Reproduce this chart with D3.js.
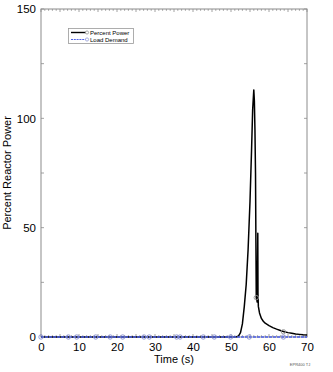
<!DOCTYPE html>
<html><head><meta charset="utf-8">
<script src="https://cdn.jsdelivr.net/npm/d3@7"></script>
<style>body{margin:0;background:#fff}svg{display:block}text{font-family:"Liberation Sans",Arial,sans-serif}</style>
</head><body>
<script>
const powerTime = [0,50,51,51.5,52,52.5,53,53.5,54,54.5,55,55.4,55.7,56.0,56.15,56.3,56.45,56.55,56.65,56.9,57.05,57.1,57.2,57.5,58,58.5,59,60,61,62,63,64,65,66,67,68,69,70];
const powerValue = [0,0,0,0.1,0.5,2,6,14,24,40,62,85,104,113,108,95,75,45,18,16,47.5,20,14,11,8.5,7.2,6.3,5.2,4.3,3.6,3,2.4,2,1.7,1.4,1.2,1,0.9];
const powerMarkerTime = [56.65,63.8];
const powerMarkerValue = [18,2.4];
const demandTime = [0,70];
const demandValue = [0,0];
const demandMarkerTime = [0,7.2,9.4,14.4,18.2,21.5,27.1,28.5,35.7,36.6,42.7,45.6,49.9,54.8,63.8];
const xTicks = [0,10,20,30,40,50,60,70];
const yTicks = [0,50,100,150];
const seriesNames = ["Percent Power","Load Demand"];

const W=333,H=372;
const m={l:41,r:26,t:9,b:35};
const svg=d3.select("body").append("svg").attr("width",W).attr("height",H);
const x=d3.scaleLinear().domain([0,70]).range([m.l,W-m.r]);
const y=d3.scaleLinear().domain([0,150]).range([H-m.b,m.t]);
const frameC="#8c8c8c";

const g=svg.append("g").attr("stroke",frameC).attr("stroke-width",0.8);
d3.range(0,151,25).forEach(v=>{
  const len=3;
  g.append("line").attr("x1",x(0)).attr("x2",x(0)+len).attr("y1",y(v)).attr("y2",y(v));
  g.append("line").attr("x1",x(70)).attr("x2",x(70)-len).attr("y1",y(v)).attr("y2",y(v));
});
d3.range(0,71,1).forEach(v=>{
  const len = v%5===0?3:1.8;
  g.append("line").attr("x1",x(v)).attr("x2",x(v)).attr("y1",y(150)).attr("y2",y(150)+len);
  g.append("line").attr("x1",x(v)).attr("x2",x(v)).attr("y1",y(0)).attr("y2",y(0)-len);
});
svg.append("rect").attr("x",x(0)).attr("y",y(150)).attr("width",x(70)-x(0)).attr("height",y(0)-y(150))
  .attr("fill","none").attr("stroke",frameC).attr("stroke-width",1);

const xa=svg.append("g").attr("transform",`translate(0,${y(0)})`)
  .call(d3.axisBottom(x).tickValues(xTicks).tickSize(0).tickPadding(6).tickFormat(d3.format("d")));
xa.select(".domain").remove();
xa.selectAll("text").attr("font-size",11.5).attr("fill","#000").attr("font-family","Liberation Sans, Arial");
const ya=svg.append("g").attr("transform",`translate(${x(0)},0)`)
  .call(d3.axisLeft(y).tickValues(yTicks).tickSize(0).tickPadding(5).tickFormat(d3.format("d")));
ya.select(".domain").remove();
ya.selectAll("text").attr("font-size",11.5).attr("fill","#000").attr("font-family","Liberation Sans, Arial");

svg.append("text").attr("x",(x(0)+x(70))/2).attr("y",363).attr("text-anchor","middle")
  .attr("font-size",11).text("Time (s)");
svg.append("text").attr("transform",`translate(11,${(y(0)+y(150))/2}) rotate(-90)`)
  .attr("text-anchor","middle").attr("font-size",11).text("Percent Reactor Power");
svg.append("text").attr("x",300).attr("y",366).attr("text-anchor","middle")
  .attr("font-size",4).attr("fill","#555").text("EPR400 TJ");

const line=d3.line().x(d=>x(d[0])).y(d=>y(d[1]));
const demandColor="#4f62e8";

svg.append("path").datum(d3.zip(powerTime,powerValue)).attr("d",line)
  .attr("fill","none").attr("stroke","#000").attr("stroke-width",1.5).attr("stroke-linejoin","round");
svg.selectAll(".pm").data(d3.zip(powerMarkerTime,powerMarkerValue)).enter().append("circle")
  .attr("cx",d=>x(d[0])).attr("cy",d=>y(d[1])).attr("r",2.2).attr("fill","none")
  .attr("stroke","#999").attr("stroke-width",0.9);

svg.append("path").datum(d3.zip(demandTime,demandValue)).attr("d",line)
  .attr("fill","none").attr("stroke",demandColor).attr("stroke-width",1.4).attr("stroke-dasharray","3,1");
svg.selectAll(".dm").data(demandMarkerTime).enter().append("circle")
  .attr("cx",d=>x(d)).attr("cy",y(0)).attr("r",2.2).attr("fill","none")
  .attr("stroke","#8890d0").attr("stroke-width",0.9);

const lg=svg.append("g");
lg.append("rect").attr("x",68.5).attr("y",28.5).attr("width",65).attr("height",15)
  .attr("fill","#fff").attr("stroke","#999").attr("stroke-width",0.8);
const legColors=["#000",demandColor];
seriesNames.forEach((n,i)=>{
  const yy=32.5+i*7;
  lg.append("line").attr("x1",71).attr("x2",87).attr("y1",yy).attr("y2",yy)
    .attr("stroke",legColors[i]).attr("stroke-width",i?1.1:1.4).attr("stroke-dasharray",i?"2,0.8":null);
  lg.append("circle").attr("cx",87).attr("cy",yy).attr("r",1.6).attr("fill","#fff")
    .attr("stroke",i?"#8890d0":"#888").attr("stroke-width",0.7);
  lg.append("text").attr("x",90).attr("y",yy+2.2).attr("font-size",6).attr("fill","#000").text(n);
});
</script>
</body></html>
